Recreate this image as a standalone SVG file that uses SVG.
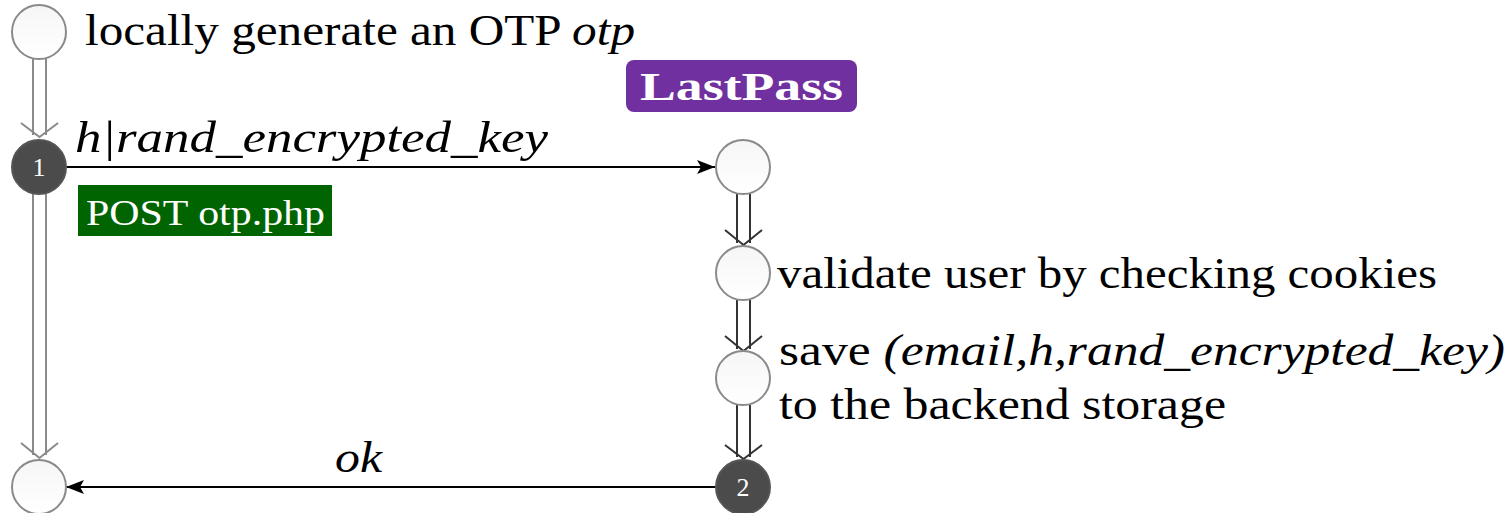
<svg xmlns="http://www.w3.org/2000/svg" width="1511" height="513" viewBox="0 0 1511 513">
<defs>
<linearGradient id="lg" x1="0" y1="0" x2="0" y2="1">
<stop offset="0" stop-color="#f6f6f6"/>
<stop offset="1" stop-color="#ffffff"/>
</linearGradient>
<marker id="ah" markerWidth="18" markerHeight="14" refX="18" refY="7" orient="auto" markerUnits="userSpaceOnUse">
<path d="M0,0 L18,7 L0,14 L4,7 Z" fill="#000"/>
</marker>
</defs>
<style>
.st{fill:url(#lg);stroke:#8a8a8a;stroke-width:2}
.dk{fill:#4b4b4b;stroke:#555;stroke-width:2}
.num{font-family:"Liberation Serif",serif;font-size:26px;fill:#fff;text-anchor:middle}
.t{font-family:"Liberation Serif",serif;font-size:44px;fill:#000}
.it{font-style:italic}
.dl{fill:none;stroke:#8a8a8a;stroke-width:2}
.dr{fill:none;stroke:#333;stroke-width:2}
.ar{fill:none;stroke:#000;stroke-width:2}
</style>
<g id="connectors">
<path class="dl" d="M33,59 V135 M46,59 V135 M21,123 L39.5,137 L58,123"/>
<path class="dl" d="M33,194 V455 M46,194 V455 M21,443 L39.5,458 L58,443"/>
<path class="dr" d="M737,194 V243 M750,194 V243 M725,230 L743.5,245 L762,230"/>
<path class="dr" d="M737,300 V349 M750,300 V349 M725,336 L743.5,351 L762,336"/>
<path class="dr" d="M737,405 V457 M750,405 V457 M725,445 L743.5,459 L762,445"/>
<line class="ar" x1="66" y1="167" x2="715" y2="167" marker-end="url(#ah)"/>
<line class="ar" x1="716" y1="487" x2="66" y2="487" marker-end="url(#ah)"/>
<text class="t it" x="75" y="152" textLength="473" lengthAdjust="spacingAndGlyphs">h|rand_encrypted_key</text>
<text class="t it" x="335" y="472" textLength="47" lengthAdjust="spacingAndGlyphs">ok</text>
</g>
<g id="n-start">
<circle class="st" cx="39" cy="32" r="27"/>
<text class="t" x="85" y="45" textLength="550" lengthAdjust="spacingAndGlyphs">locally generate an OTP <tspan class="it">otp</tspan></text>
</g>
<g id="n-1">
<circle class="dk" cx="39" cy="167" r="27"/>
<text class="num" x="39" y="176">1</text>
</g>
<g id="post-label">
<rect x="78" y="185" width="254" height="51" fill="#006400"/>
<text x="86" y="225" font-family="'Liberation Serif',serif" font-size="36" fill="#fff" textLength="239" lengthAdjust="spacingAndGlyphs">POST otp.php</text>
</g>
<g id="lastpass">
<rect x="626" y="60" width="231" height="52" rx="8" fill="#7030a0"/>
<text x="640" y="100" font-family="'Liberation Serif',serif" font-size="40" font-weight="bold" fill="#fff" textLength="203" lengthAdjust="spacingAndGlyphs">LastPass</text>
</g>
<g id="n-recv">
<circle class="st" cx="743" cy="167" r="27"/>
</g>
<g id="n-validate">
<circle class="st" cx="743" cy="273" r="27"/>
<text class="t" x="777" y="288" textLength="660" lengthAdjust="spacingAndGlyphs">validate user by checking cookies</text>
</g>
<g id="n-save">
<circle class="st" cx="743" cy="378" r="27"/>
<text class="t" x="779" y="365" textLength="726" lengthAdjust="spacingAndGlyphs">save <tspan class="it">(email,h,rand_encrypted_key)</tspan></text>
<text class="t" x="779" y="419" textLength="447" lengthAdjust="spacingAndGlyphs">to the backend storage</text>
</g>
<g id="n-2">
<circle class="dk" cx="743" cy="487" r="27"/>
<text class="num" x="743" y="496">2</text>
</g>
<g id="n-end">
<circle class="st" cx="39" cy="487" r="27"/>
</g>
</svg>
